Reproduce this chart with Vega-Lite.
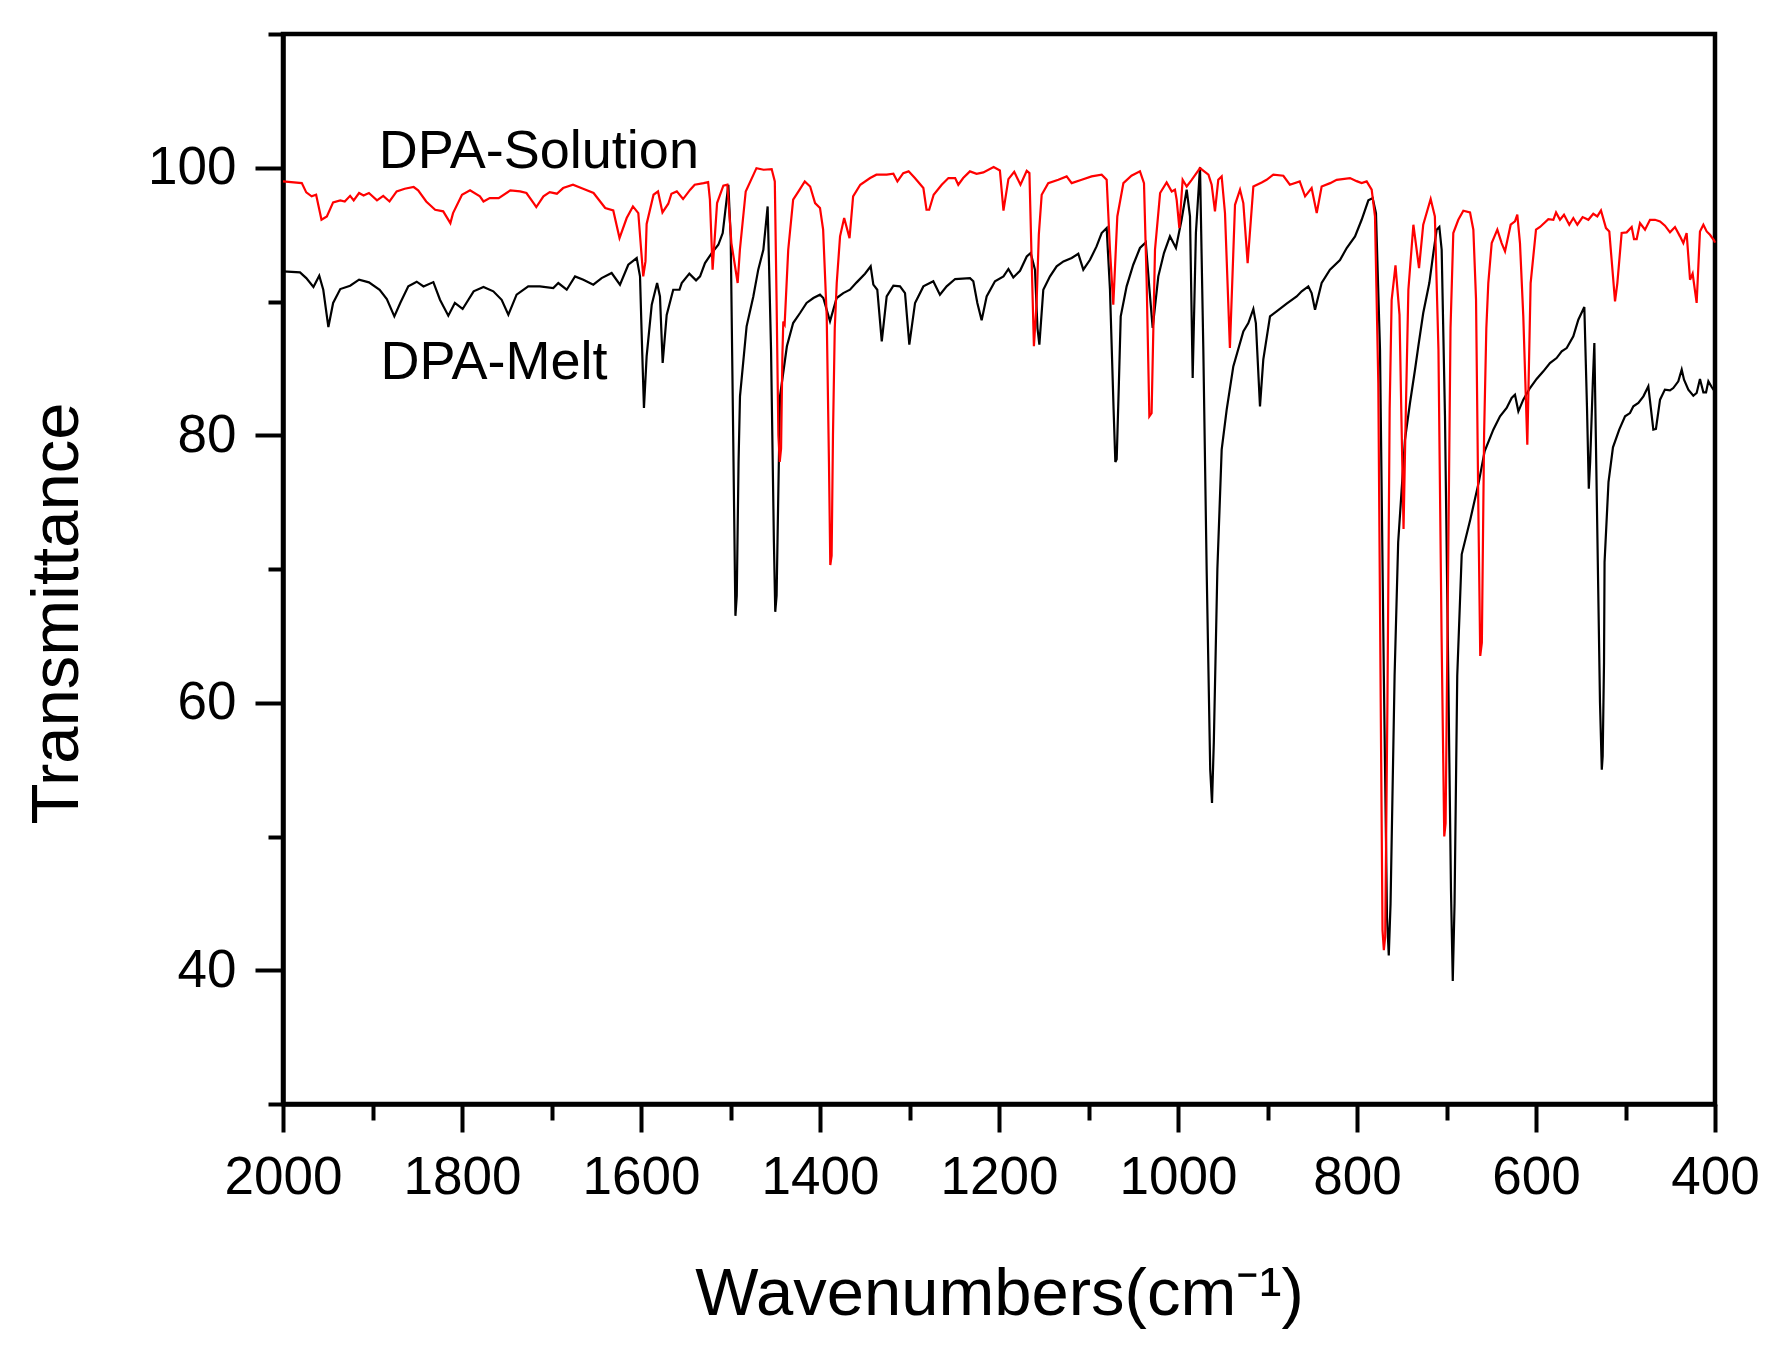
{
  "$schema": "https://vega.github.io/schema/vega-lite/v6.json",
  "description": "FTIR spectra of DPA, solution vs melt",
  "width": 1432,
  "height": 1070,
  "autosize": {"type": "none"},
  "padding": {"left": 283, "top": 34, "right": 77, "bottom": 244},
  "background": "white",
  "config": {
    "font": "Liberation Sans",
    "view": {"stroke": "black", "strokeWidth": 4.5},
    "axis": {
      "grid": false,
      "domainColor": "black",
      "domainWidth": 4.5,
      "tickColor": "black",
      "tickWidth": 4,
      "labelColor": "black",
      "labelFontSize": 53,
      "labelFont": "Liberation Sans",
      "labelPadding": 19,
      "labelOverlap": false,
      "labelFlush": false,
      "titleColor": "black",
      "titleFont": "Liberation Sans",
      "titleFontSize": 67,
      "titleFontWeight": "normal"
    }
  },
  "datasets": {
    "solution": [
      {"w": 2000, "t": 98.98}, {"w": 1979, "t": 98.85}, {"w": 1974, "t": 98.16}, {"w": 1968, "t": 97.86},
      {"w": 1963, "t": 97.98}, {"w": 1957, "t": 96.11}, {"w": 1951, "t": 96.36}, {"w": 1944, "t": 97.41},
      {"w": 1936, "t": 97.56}, {"w": 1931, "t": 97.48}, {"w": 1925, "t": 97.9}, {"w": 1921, "t": 97.56},
      {"w": 1915, "t": 98.11}, {"w": 1910, "t": 97.93}, {"w": 1904, "t": 98.11}, {"w": 1895, "t": 97.56},
      {"w": 1888, "t": 97.9}, {"w": 1881, "t": 97.48}, {"w": 1873, "t": 98.23}, {"w": 1864, "t": 98.43},
      {"w": 1854, "t": 98.56}, {"w": 1849, "t": 98.31}, {"w": 1840, "t": 97.48}, {"w": 1830, "t": 96.86},
      {"w": 1821, "t": 96.74}, {"w": 1813, "t": 95.86}, {"w": 1810, "t": 96.61}, {"w": 1800, "t": 97.98},
      {"w": 1791, "t": 98.31}, {"w": 1780, "t": 97.86}, {"w": 1776, "t": 97.48}, {"w": 1769, "t": 97.73},
      {"w": 1759, "t": 97.73}, {"w": 1746, "t": 98.31}, {"w": 1735, "t": 98.23}, {"w": 1728, "t": 98.11},
      {"w": 1720, "t": 97.36}, {"w": 1717, "t": 97.06}, {"w": 1709, "t": 97.86}, {"w": 1702, "t": 98.18},
      {"w": 1694, "t": 98.06}, {"w": 1687, "t": 98.48}, {"w": 1676, "t": 98.73}, {"w": 1664, "t": 98.41},
      {"w": 1653, "t": 98.11}, {"w": 1640, "t": 96.99}, {"w": 1631, "t": 96.81}, {"w": 1624, "t": 94.74},
      {"w": 1616, "t": 96.24}, {"w": 1609, "t": 97.11}, {"w": 1603, "t": 96.61}, {"w": 1600, "t": 94},
      {"w": 1597.5, "t": 91.88}, {"w": 1595, "t": 93}, {"w": 1593.7, "t": 95.8}, {"w": 1586, "t": 97.98},
      {"w": 1581, "t": 98.23}, {"w": 1576, "t": 96.66}, {"w": 1569.5, "t": 97.31}, {"w": 1566, "t": 98.06},
      {"w": 1560, "t": 98.23}, {"w": 1553, "t": 97.66}, {"w": 1545, "t": 98.36}, {"w": 1540, "t": 98.73},
      {"w": 1530, "t": 98.85}, {"w": 1525, "t": 98.93}, {"w": 1523, "t": 97.61}, {"w": 1520, "t": 92.38},
      {"w": 1515, "t": 97.36}, {"w": 1508, "t": 98.66}, {"w": 1503.5, "t": 98.73}, {"w": 1499, "t": 94.37},
      {"w": 1492, "t": 91.38}, {"w": 1489.5, "t": 93.87}, {"w": 1483, "t": 98.23}, {"w": 1471, "t": 99.97},
      {"w": 1463, "t": 99.85}, {"w": 1454, "t": 99.9}, {"w": 1450.5, "t": 98.98}, {"w": 1448.5, "t": 90},
      {"w": 1446.5, "t": 80}, {"w": 1445, "t": 78}, {"w": 1443.5, "t": 79}, {"w": 1442, "t": 86},
      {"w": 1441, "t": 88.5}, {"w": 1439.5, "t": 88.3}, {"w": 1435.5, "t": 93.87}, {"w": 1430, "t": 97.61},
      {"w": 1424, "t": 98.23}, {"w": 1417, "t": 98.98}, {"w": 1411, "t": 98.6}, {"w": 1405.5, "t": 97.36},
      {"w": 1400, "t": 96.99}, {"w": 1396.5, "t": 95.37}, {"w": 1392.5, "t": 88.89}, {"w": 1390, "t": 78},
      {"w": 1388.5, "t": 70.3}, {"w": 1387, "t": 71}, {"w": 1385.5, "t": 80}, {"w": 1383.5, "t": 88},
      {"w": 1381.3, "t": 91.38}, {"w": 1377.6, "t": 94.87}, {"w": 1373, "t": 96.24}, {"w": 1367, "t": 94.74},
      {"w": 1363, "t": 97.86}, {"w": 1355, "t": 98.73}, {"w": 1344, "t": 99.23}, {"w": 1337, "t": 99.48},
      {"w": 1325.5, "t": 99.48}, {"w": 1318, "t": 99.55}, {"w": 1313.5, "t": 98.98}, {"w": 1307, "t": 99.6},
      {"w": 1301, "t": 99.73}, {"w": 1294, "t": 99.23}, {"w": 1284.5, "t": 98.48}, {"w": 1281, "t": 96.86},
      {"w": 1278, "t": 96.86}, {"w": 1273, "t": 97.98}, {"w": 1264, "t": 98.73}, {"w": 1256.5, "t": 99.23},
      {"w": 1249, "t": 99.23}, {"w": 1245.5, "t": 98.73}, {"w": 1240, "t": 99.23}, {"w": 1232.5, "t": 99.73},
      {"w": 1225, "t": 99.55}, {"w": 1217.5, "t": 99.65}, {"w": 1206, "t": 100.05}, {"w": 1199, "t": 99.8},
      {"w": 1195, "t": 96.8}, {"w": 1189.5, "t": 99.15}, {"w": 1183, "t": 99.7}, {"w": 1176, "t": 98.73},
      {"w": 1169, "t": 99.77}, {"w": 1166, "t": 99.6}, {"w": 1163.5, "t": 93}, {"w": 1161, "t": 86.65},
      {"w": 1158, "t": 89.89}, {"w": 1155.5, "t": 95}, {"w": 1152.3, "t": 97.98}, {"w": 1145, "t": 98.85},
      {"w": 1133.7, "t": 99.1}, {"w": 1124.4, "t": 99.35}, {"w": 1118.8, "t": 98.85}, {"w": 1107.6, "t": 99.1},
      {"w": 1096.5, "t": 99.35}, {"w": 1085.3, "t": 99.48}, {"w": 1079.7, "t": 99.1}, {"w": 1076, "t": 93.87},
      {"w": 1072.3, "t": 89.76}, {"w": 1067.8, "t": 96.36}, {"w": 1061, "t": 98.85}, {"w": 1052, "t": 99.4},
      {"w": 1042.5, "t": 99.73}, {"w": 1038, "t": 98.85}, {"w": 1035, "t": 91.38}, {"w": 1032, "t": 81.42},
      {"w": 1029.5, "t": 81.66}, {"w": 1025.7, "t": 93.87}, {"w": 1020, "t": 98.11}, {"w": 1012.7, "t": 98.9},
      {"w": 1007, "t": 98.23}, {"w": 1003.4, "t": 98.36}, {"w": 1001.5, "t": 97.61}, {"w": 998.5, "t": 95.49},
      {"w": 994.8, "t": 99.1}, {"w": 990.3, "t": 98.6}, {"w": 984.7, "t": 99.1}, {"w": 975.4, "t": 99.97},
      {"w": 966, "t": 99.48}, {"w": 962.4, "t": 98.73}, {"w": 958.7, "t": 96.74}, {"w": 955, "t": 99.1},
      {"w": 951.2, "t": 99.35}, {"w": 947.5, "t": 96.61}, {"w": 942, "t": 86.52}, {"w": 936.3, "t": 97.23},
      {"w": 930.7, "t": 98.36}, {"w": 927, "t": 97.36}, {"w": 922.2, "t": 92.87}, {"w": 915.8, "t": 98.6},
      {"w": 906.5, "t": 98.9}, {"w": 901, "t": 99.1}, {"w": 893.5, "t": 99.48}, {"w": 882.3, "t": 99.4},
      {"w": 875, "t": 98.73}, {"w": 864, "t": 98.98}, {"w": 858, "t": 97.86}, {"w": 850.7, "t": 98.48},
      {"w": 845, "t": 96.61}, {"w": 839.5, "t": 98.6}, {"w": 830, "t": 98.85}, {"w": 822.7, "t": 99.1},
      {"w": 807.8, "t": 99.23}, {"w": 800.4, "t": 99}, {"w": 794.8, "t": 98.85}, {"w": 789.2, "t": 98.98},
      {"w": 783.6, "t": 98.36}, {"w": 779.9, "t": 96.36}, {"w": 776.2, "t": 83.9}, {"w": 773.5, "t": 60},
      {"w": 771.5, "t": 43}, {"w": 770, "t": 41.5}, {"w": 768.5, "t": 42.5}, {"w": 766, "t": 60},
      {"w": 763.5, "t": 82}, {"w": 761.3, "t": 90.1}, {"w": 757, "t": 92.7}, {"w": 752.5, "t": 89},
      {"w": 750, "t": 80}, {"w": 748, "t": 73}, {"w": 746, "t": 80}, {"w": 742.6, "t": 90.88},
      {"w": 737, "t": 95.74}, {"w": 730.7, "t": 92.5}, {"w": 726, "t": 95.74}, {"w": 717.7, "t": 97.66},
      {"w": 713, "t": 96.36}, {"w": 709, "t": 86.4}, {"w": 705.5, "t": 65}, {"w": 702.5, "t": 50},
      {"w": 701, "t": 51}, {"w": 698.5, "t": 68}, {"w": 695.5, "t": 88}, {"w": 692.4, "t": 95.12},
      {"w": 686.8, "t": 96.11}, {"w": 681.2, "t": 96.79}, {"w": 673.7, "t": 96.66}, {"w": 670, "t": 95.37},
      {"w": 667, "t": 90.14}, {"w": 664.5, "t": 75}, {"w": 662.3, "t": 63.5}, {"w": 660.5, "t": 64.5},
      {"w": 658, "t": 80}, {"w": 655.5, "t": 88}, {"w": 653.3, "t": 91.38}, {"w": 649.5, "t": 94.37},
      {"w": 643.2, "t": 95.37}, {"w": 638.4, "t": 94.37}, {"w": 634.6, "t": 93.75}, {"w": 628.3, "t": 95.74},
      {"w": 623.5, "t": 95.99}, {"w": 620.9, "t": 96.49}, {"w": 617.9, "t": 94.37}, {"w": 614.2, "t": 88.89},
      {"w": 609.7, "t": 79.3}, {"w": 606, "t": 91.38}, {"w": 600, "t": 95.37}, {"w": 595.5, "t": 95.57},
      {"w": 586.2, "t": 96.16}, {"w": 580.6, "t": 96.11}, {"w": 577.6, "t": 96.66}, {"w": 573.2, "t": 96.11},
      {"w": 568.7, "t": 96.49}, {"w": 562.8, "t": 95.74}, {"w": 558.3, "t": 96.24}, {"w": 553.8, "t": 95.74},
      {"w": 547.9, "t": 96.31}, {"w": 541.5, "t": 96.11}, {"w": 536, "t": 96.56}, {"w": 531.5, "t": 96.36},
      {"w": 527.4, "t": 96.81}, {"w": 521.8, "t": 95.49}, {"w": 518.1, "t": 95.24}, {"w": 515.5, "t": 93.12},
      {"w": 511.7, "t": 90.01}, {"w": 509.1, "t": 91.38}, {"w": 504.3, "t": 95.12}, {"w": 498.7, "t": 95.17},
      {"w": 493.1, "t": 95.57}, {"w": 490.5, "t": 94.67}, {"w": 487.5, "t": 94.67}, {"w": 483.8, "t": 95.86},
      {"w": 478.2, "t": 95.37}, {"w": 472.6, "t": 96.11}, {"w": 467, "t": 96.11}, {"w": 461.4, "t": 95.99},
      {"w": 455.9, "t": 95.67}, {"w": 450.3, "t": 95.17}, {"w": 444.7, "t": 95.57}, {"w": 439.1, "t": 94.87},
      {"w": 435.4, "t": 94.37}, {"w": 431.7, "t": 95.12}, {"w": 427.9, "t": 91.63}, {"w": 425, "t": 92.08},
      {"w": 420.5, "t": 89.89}, {"w": 416.8, "t": 95.24}, {"w": 413, "t": 95.74}, {"w": 409.3, "t": 95.24},
      {"w": 405.6, "t": 94.99}, {"w": 401.1, "t": 94.57}, {"w": 400, "t": 94.4}
    ],
    "melt": [
      {"w": 2000, "t": 92.25}, {"w": 1981, "t": 92.18}, {"w": 1974, "t": 91.75}, {"w": 1966, "t": 91.08},
      {"w": 1959.5, "t": 91.93}, {"w": 1955, "t": 90.88}, {"w": 1949.3, "t": 88.09}, {"w": 1944, "t": 89.89},
      {"w": 1936, "t": 90.93}, {"w": 1925, "t": 91.18}, {"w": 1915, "t": 91.63}, {"w": 1904, "t": 91.43},
      {"w": 1892, "t": 90.88}, {"w": 1884, "t": 90.18}, {"w": 1875.6, "t": 88.89}, {"w": 1869, "t": 89.89},
      {"w": 1860, "t": 91.13}, {"w": 1850.6, "t": 91.48}, {"w": 1843, "t": 91.13}, {"w": 1832, "t": 91.45},
      {"w": 1824.6, "t": 90.13}, {"w": 1815.3, "t": 88.94}, {"w": 1808, "t": 89.89}, {"w": 1799.3, "t": 89.44},
      {"w": 1787, "t": 90.76}, {"w": 1776, "t": 91.08}, {"w": 1765, "t": 90.76}, {"w": 1755.7, "t": 90.13},
      {"w": 1748.2, "t": 89.01}, {"w": 1739, "t": 90.51}, {"w": 1726, "t": 91.13}, {"w": 1713, "t": 91.13},
      {"w": 1698, "t": 91.01}, {"w": 1692.4, "t": 91.38}, {"w": 1683, "t": 90.88}, {"w": 1673.7, "t": 91.88},
      {"w": 1664.4, "t": 91.63}, {"w": 1653.3, "t": 91.26}, {"w": 1644, "t": 91.75}, {"w": 1632.8, "t": 92.13},
      {"w": 1623.5, "t": 91.26}, {"w": 1614.2, "t": 92.75}, {"w": 1604.8, "t": 93.25}, {"w": 1601.1, "t": 91.88},
      {"w": 1599, "t": 87}, {"w": 1596.7, "t": 82.04}, {"w": 1593.7, "t": 85.9}, {"w": 1588, "t": 89.76},
      {"w": 1582, "t": 91.38}, {"w": 1578.8, "t": 90.38}, {"w": 1575.8, "t": 85.4}, {"w": 1571.3, "t": 89},
      {"w": 1564, "t": 90.88}, {"w": 1557, "t": 90.88}, {"w": 1554.5, "t": 91.38}, {"w": 1546, "t": 92.08},
      {"w": 1538.5, "t": 91.58}, {"w": 1534, "t": 91.88}, {"w": 1528.5, "t": 92.87}, {"w": 1521, "t": 93.62},
      {"w": 1513.6, "t": 94.24}, {"w": 1508.7, "t": 95.12}, {"w": 1502.4, "t": 98.73}, {"w": 1499.8, "t": 94.87},
      {"w": 1497, "t": 80}, {"w": 1494.5, "t": 66.5}, {"w": 1493, "t": 68}, {"w": 1491, "t": 78},
      {"w": 1489.4, "t": 82.91}, {"w": 1482, "t": 88.14}, {"w": 1474.5, "t": 90.38}, {"w": 1469, "t": 92.38},
      {"w": 1463.3, "t": 93.87}, {"w": 1458.5, "t": 97.11}, {"w": 1454.7, "t": 86.4}, {"w": 1451.5, "t": 72},
      {"w": 1450, "t": 66.8}, {"w": 1448.5, "t": 68}, {"w": 1446.5, "t": 76}, {"w": 1444.7, "t": 82.91},
      {"w": 1437, "t": 86.65}, {"w": 1430, "t": 88.39}, {"w": 1422.3, "t": 89.14}, {"w": 1415, "t": 89.89},
      {"w": 1407.4, "t": 90.26}, {"w": 1400, "t": 90.51}, {"w": 1396.3, "t": 90.26}, {"w": 1388.8, "t": 88.52},
      {"w": 1381.4, "t": 90.26}, {"w": 1374, "t": 90.63}, {"w": 1366.5, "t": 90.88}, {"w": 1359, "t": 91.43},
      {"w": 1349.7, "t": 92.08}, {"w": 1343.4, "t": 92.63}, {"w": 1340.4, "t": 91.26}, {"w": 1336, "t": 90.88},
      {"w": 1331, "t": 87.02}, {"w": 1325.5, "t": 90.38}, {"w": 1318, "t": 91.18}, {"w": 1310.6, "t": 91.13},
      {"w": 1305, "t": 90.63}, {"w": 1300.2, "t": 86.77}, {"w": 1293.8, "t": 89.89}, {"w": 1284.5, "t": 91.13},
      {"w": 1273.4, "t": 91.51}, {"w": 1266, "t": 90.51}, {"w": 1258.5, "t": 91.13}, {"w": 1249, "t": 91.68},
      {"w": 1232.4, "t": 91.75}, {"w": 1228.7, "t": 91.51}, {"w": 1224.2, "t": 89.89}, {"w": 1219.4, "t": 88.59},
      {"w": 1213.8, "t": 90.38}, {"w": 1204.5, "t": 91.51}, {"w": 1195, "t": 91.88}, {"w": 1189.5, "t": 92.43},
      {"w": 1184, "t": 91.8}, {"w": 1176.5, "t": 92.3}, {"w": 1169, "t": 93.37}, {"w": 1164.6, "t": 93.62},
      {"w": 1159.8, "t": 92.38}, {"w": 1157, "t": 88}, {"w": 1154.9, "t": 86.77}, {"w": 1150.5, "t": 90.88},
      {"w": 1143, "t": 91.88}, {"w": 1135.6, "t": 92.63}, {"w": 1128, "t": 93}, {"w": 1118.8, "t": 93.25},
      {"w": 1111.4, "t": 93.57}, {"w": 1105.8, "t": 92.38}, {"w": 1098.3, "t": 93.12}, {"w": 1091, "t": 94.12},
      {"w": 1085.3, "t": 95.12}, {"w": 1079.7, "t": 95.49}, {"w": 1076, "t": 90.88}, {"w": 1072, "t": 82},
      {"w": 1070, "t": 78}, {"w": 1068.5, "t": 78.2}, {"w": 1066, "t": 84}, {"w": 1064, "t": 88.89},
      {"w": 1057.4, "t": 91.13}, {"w": 1050, "t": 92.75}, {"w": 1042.5, "t": 94}, {"w": 1036, "t": 94.42},
      {"w": 1032, "t": 91}, {"w": 1028.3, "t": 88.02}, {"w": 1022, "t": 91.88}, {"w": 1015.7, "t": 93.62},
      {"w": 1009, "t": 94.87}, {"w": 1002.3, "t": 94}, {"w": 996, "t": 96.11}, {"w": 990.3, "t": 98.36},
      {"w": 986.6, "t": 96.36}, {"w": 983.6, "t": 84.28}, {"w": 980, "t": 95.12}, {"w": 975.4, "t": 100.05},
      {"w": 971.7, "t": 86.4}, {"w": 968, "t": 70}, {"w": 964, "t": 55}, {"w": 962, "t": 52.5},
      {"w": 960, "t": 57}, {"w": 956, "t": 70}, {"w": 951.2, "t": 78.92}, {"w": 945.6, "t": 81.92},
      {"w": 938.2, "t": 85.15}, {"w": 927, "t": 87.77}, {"w": 921.4, "t": 88.39}, {"w": 915.8, "t": 89.44},
      {"w": 913, "t": 88.39}, {"w": 908.4, "t": 82.16}, {"w": 904.7, "t": 85.65}, {"w": 897.2, "t": 88.89},
      {"w": 889.8, "t": 89.26}, {"w": 878.6, "t": 89.84}, {"w": 867.4, "t": 90.38}, {"w": 861.8, "t": 90.76},
      {"w": 854.4, "t": 91.13}, {"w": 850.7, "t": 90.63}, {"w": 846.9, "t": 89.39}, {"w": 839.5, "t": 91.38},
      {"w": 830.2, "t": 92.38}, {"w": 819, "t": 93.1}, {"w": 811.5, "t": 94}, {"w": 802.2, "t": 94.87},
      {"w": 794.8, "t": 96.11}, {"w": 787.3, "t": 97.56}, {"w": 782.5, "t": 97.73}, {"w": 778.8, "t": 96.61},
      {"w": 774.3, "t": 86.4}, {"w": 770, "t": 62}, {"w": 766.5, "t": 44}, {"w": 764.5, "t": 41.1},
      {"w": 762.5, "t": 45}, {"w": 758, "t": 62}, {"w": 754, "t": 72}, {"w": 746.4, "t": 79.67},
      {"w": 740.8, "t": 82.41}, {"w": 735.2, "t": 84.9}, {"w": 731.5, "t": 86.65}, {"w": 726, "t": 89.14},
      {"w": 719.2, "t": 91.38}, {"w": 714.7, "t": 93.62}, {"w": 711, "t": 95.37}, {"w": 708, "t": 95.57},
      {"w": 705.4, "t": 93.87}, {"w": 701.7, "t": 81.42}, {"w": 698, "t": 62}, {"w": 695, "t": 46},
      {"w": 693, "t": 39.2}, {"w": 691, "t": 45}, {"w": 688, "t": 62}, {"w": 683, "t": 71.1},
      {"w": 673.4, "t": 73.7}, {"w": 663.7, "t": 76.57}, {"w": 657.4, "t": 78.8}, {"w": 647.7, "t": 80.42},
      {"w": 640.2, "t": 81.42}, {"w": 632.8, "t": 82.04}, {"w": 627.2, "t": 82.79}, {"w": 623.5, "t": 83.03},
      {"w": 619.7, "t": 81.79}, {"w": 614.2, "t": 82.66}, {"w": 606.7, "t": 83.53}, {"w": 599.3, "t": 84.21},
      {"w": 591.8, "t": 84.78}, {"w": 584.4, "t": 85.4}, {"w": 577, "t": 85.77}, {"w": 571.3, "t": 86.27},
      {"w": 565.7, "t": 86.52}, {"w": 558.3, "t": 87.39}, {"w": 552.7, "t": 88.64}, {"w": 546, "t": 89.59},
      {"w": 543, "t": 82}, {"w": 541, "t": 76}, {"w": 539.5, "t": 78}, {"w": 536.5, "t": 84},
      {"w": 534.8, "t": 86.9}, {"w": 532, "t": 75}, {"w": 528.5, "t": 60}, {"w": 526.5, "t": 55},
      {"w": 525.5, "t": 56}, {"w": 524, "t": 63}, {"w": 523.4, "t": 70.5}, {"w": 519, "t": 76.5},
      {"w": 514, "t": 79.1}, {"w": 507, "t": 80.42}, {"w": 500.5, "t": 81.42}, {"w": 495, "t": 81.66},
      {"w": 491.2, "t": 82.16}, {"w": 485.6, "t": 82.41}, {"w": 480, "t": 82.91}, {"w": 474.5, "t": 83.66},
      {"w": 468.9, "t": 80.42}, {"w": 466, "t": 80.47}, {"w": 461.4, "t": 82.66}, {"w": 456, "t": 83.41},
      {"w": 450.3, "t": 83.36}, {"w": 446.6, "t": 83.53}, {"w": 441, "t": 84.03}, {"w": 437.2, "t": 84.9},
      {"w": 434.6, "t": 84.15}, {"w": 429.8, "t": 83.41}, {"w": 424.2, "t": 82.96}, {"w": 420.5, "t": 83.16},
      {"w": 416.8, "t": 84.21}, {"w": 413, "t": 83.21}, {"w": 410, "t": 83.21}, {"w": 407.4, "t": 84.03},
      {"w": 403.7, "t": 83.61}, {"w": 401.8, "t": 83.41}, {"w": 400, "t": 83.3}
    ],
    "labels": [
      {"w": 1893, "t": 100, "text": "DPA-Solution"},
      {"w": 1891, "t": 84.2, "text": "DPA-Melt"}
    ]
  },
  "encoding": {
    "x": {
      "field": "w",
      "type": "quantitative",
      "scale": {"domain": [400, 2000], "reverse": true, "nice": false, "zero": false},
      "axis": {
        "title": "Wavenumbers(cm⁻¹)",
        "titleY": 210,
        "titleBaseline": "alphabetic",
        "values": [2000, 1900, 1800, 1700, 1600, 1500, 1400, 1300, 1200, 1100, 1000, 900, 800, 700, 600, 500, 400],
        "format": "d",
        "labelExpr": "datum.value % 200 === 0 ? datum.label : ''",
        "tickSize": {"condition": {"test": "datum.value % 200 === 0", "value": 28}, "value": 16}
      }
    },
    "y": {
      "field": "t",
      "type": "quantitative",
      "scale": {"domain": [30, 110], "nice": false, "zero": false},
      "axis": {
        "title": "Transmittance",
        "titleAngle": 270,
        "titleX": -206,
        "titleY": 579,
        "titleAlign": "center",
        "titleBaseline": "alphabetic",
        "values": [30, 40, 50, 60, 70, 80, 90, 100, 110],
        "format": "d",
        "labelExpr": "datum.value % 20 === 0 ? datum.label : ''",
        "tickSize": {"condition": {"test": "datum.value % 20 === 0", "value": 28}, "value": 15}
      }
    }
  },
  "layer": [
    {
      "data": {"name": "melt"},
      "mark": {"type": "line", "color": "black", "strokeWidth": 2.2}
    },
    {
      "data": {"name": "solution"},
      "mark": {"type": "line", "color": "#ff0000", "strokeWidth": 2.2}
    },
    {
      "data": {"name": "labels"},
      "mark": {"type": "text", "align": "left", "baseline": "alphabetic", "fontSize": 54, "font": "Liberation Sans", "color": "black"},
      "encoding": {"text": {"field": "text"}}
    }
  ]
}
